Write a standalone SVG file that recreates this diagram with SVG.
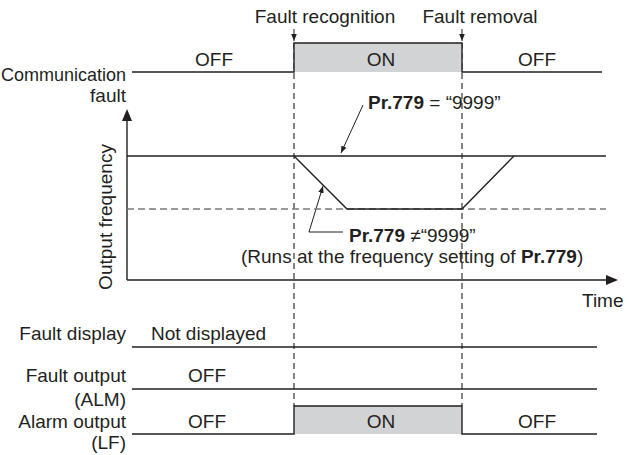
<svg xmlns="http://www.w3.org/2000/svg" width="629" height="455" viewBox="0 0 629 455">
<defs>
<style>
text{font-family:"Liberation Sans",Arial,sans-serif;font-size:19px;fill:#231f20}
.b{font-weight:bold}
.m{text-anchor:middle}
.e{text-anchor:end}
.ln{stroke:#231f20;stroke-width:1.4;fill:none}
.thin{stroke:#231f20;stroke-width:1;fill:none}
.dash{stroke:#231f20;stroke-width:1.1;stroke-dasharray:6 4;fill:none}
.gdash{stroke:#7a7a7a;stroke-width:1.4;stroke-dasharray:7 4;fill:none}
.on{fill:#d1d3d4;stroke:none}
</style>
<marker id="ah" viewBox="0 0 10 10" refX="10" refY="5" markerWidth="7" markerHeight="7" markerUnits="userSpaceOnUse" orient="auto"><path d="M0,1 L10,5 L0,9 z" fill="#231f20"/></marker>
</defs>
<g id="connectors">
<line class="dash" x1="294" y1="43" x2="294" y2="406"/>
<line class="dash" x1="462" y1="43" x2="462" y2="406"/>
<line class="thin" x1="294" y1="29" x2="294" y2="41" marker-end="url(#ah)"/>
<line class="thin" x1="462" y1="29" x2="462" y2="41" marker-end="url(#ah)"/>
<line class="thin" x1="363" y1="105" x2="341" y2="153" marker-end="url(#ah)"/>
<polyline class="thin" points="343,232 309,232 323,186" marker-end="url(#ah)"/>
</g>
<g id="title-labels">
<text class="m" x="325" y="23">Fault recognition</text>
<text class="m" x="480" y="23">Fault removal</text>
</g>
<g id="comm-fault">
<rect class="on" x="294" y="43" width="168" height="29"/>
<polyline class="ln" points="132,72 294,72 294,43 462,43 462,72 602,72"/>
<text class="m" x="214" y="66">OFF</text>
<text class="m" x="381" y="66">ON</text>
<text class="m" x="537" y="66">OFF</text>
<text x="1" y="81" textLength="125" lengthAdjust="spacingAndGlyphs">Communication</text>
<text class="e" x="126" y="102">fault</text>
</g>
<g id="output-frequency">
<line class="ln" x1="127" y1="120" x2="127" y2="280"/>
<path d="M127,109 L132,121 L122,121 z" fill="#231f20"/>
<line class="ln" x1="127" y1="280" x2="607" y2="280"/>
<path d="M618,280 L606,275 L606,285 z" fill="#231f20"/>
<line class="gdash" x1="127" y1="209" x2="606" y2="209"/>
<line class="ln" x1="127" y1="156" x2="606" y2="156"/>
<polyline class="ln" points="294,156 347,209 462,209 514,156"/>
<text transform="translate(112,217) rotate(-90)" class="m">Output frequency</text>
<text x="582" y="307">Time</text>
<text x="368" y="109"><tspan class="b">Pr.779</tspan> = “9999”</text>
<text x="349" y="242"><tspan class="b">Pr.779</tspan> ≠“9999”</text>
<text x="241" y="263">(Runs at the frequency setting of <tspan class="b">Pr.779</tspan>)</text>
</g>
<g id="fault-display">
<line class="ln" x1="132" y1="347" x2="597" y2="347"/>
<text class="e" x="126" y="340">Fault display</text>
<text x="151" y="340">Not displayed</text>
</g>
<g id="fault-output">
<line class="ln" x1="132" y1="389" x2="597" y2="389"/>
<text class="e" x="126" y="382">Fault output</text>
<text class="e" x="126" y="406">(ALM)</text>
<text class="m" x="207" y="382">OFF</text>
</g>
<g id="alarm-output">
<rect class="on" x="294" y="406" width="168" height="28"/>
<polyline class="ln" points="132,434 294,434 294,406 462,406 462,434 597,434"/>
<text class="e" x="126" y="428">Alarm output</text>
<text class="e" x="126" y="449">(LF)</text>
<text class="m" x="207" y="428">OFF</text>
<text class="m" x="381" y="428">ON</text>
<text class="m" x="537" y="428">OFF</text>
</g>
</svg>
